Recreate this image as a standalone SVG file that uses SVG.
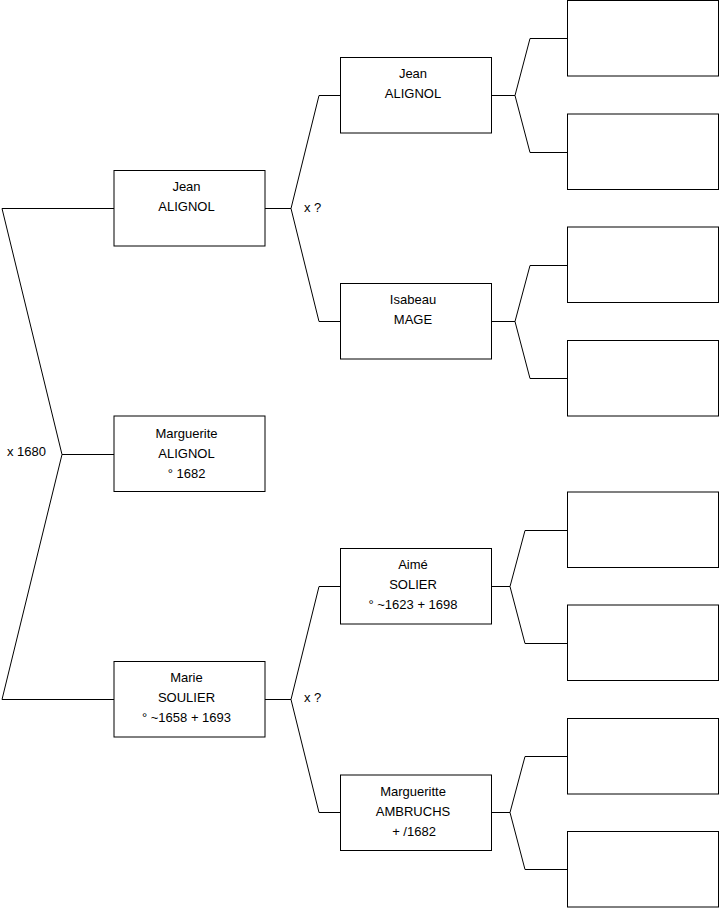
<svg xmlns="http://www.w3.org/2000/svg" width="719" height="908" viewBox="0 0 719 908">
<style>
.box{fill:#fff;stroke:#000;stroke-width:1}
.ln{fill:none;stroke:#000;stroke-width:1}
text{font-family:"Liberation Sans",Arial,sans-serif;font-size:13px;fill:#000}
.c{text-anchor:middle}
</style>
<rect width="719" height="908" fill="#fff"/>
<g id="connectors">
<path class="ln" d="M114,208.5 H2 L62,454.5 L2,699.5 H114 M62,454.5 H114"/>
<path class="ln" d="M265,208.5 H291 L319,95.5 H340.5 M291,208.5 L319,321.5 H340.5"/>
<path class="ln" d="M265,699.5 H291 L319,586.5 H340.5 M291,699.5 L319,812.5 H340.5"/>
<path class="ln" d="M491.5,95.5 H515 L530,38.5 H567.5 M515,95.5 L530,152.5 H567.5"/>
<path class="ln" d="M491.5,321.5 H515 L530,265.5 H567.5 M515,321.5 L530,378.5 H567.5"/>
<path class="ln" d="M491.5,586.5 H510 L525,530.5 H567.5 M510,586.5 L525,643.5 H567.5"/>
<path class="ln" d="M491.5,812.5 H510 L525,756.5 H567.5 M510,812.5 L525,869.5 H567.5"/>
<text x="7" y="456">x 1680</text>
<text x="304" y="212">x ?</text>
<text x="304" y="702">x ?</text>
</g>
<g id="n-jean1"><rect class="box" x="114" y="170.5" width="151" height="75.5"/><text class="c" x="186.5" y="191">Jean</text><text class="c" x="186.5" y="211">ALIGNOL</text></g>
<g id="n-marguerite"><rect class="box" x="114" y="416" width="151" height="75.5"/><text class="c" x="186.5" y="438">Marguerite</text><text class="c" x="186.5" y="458">ALIGNOL</text><text class="c" x="186.5" y="478">° 1682</text></g>
<g id="n-marie"><rect class="box" x="114" y="661.5" width="151" height="75.5"/><text class="c" x="186.5" y="682">Marie</text><text class="c" x="186.5" y="702">SOULIER</text><text class="c" x="186.5" y="722">° ~1658 + 1693</text></g>
<g id="n-jean2"><rect class="box" x="340.5" y="57.5" width="151" height="75.5"/><text class="c" x="413" y="78">Jean</text><text class="c" x="413" y="98">ALIGNOL</text></g>
<g id="n-isabeau"><rect class="box" x="340.5" y="283.5" width="151" height="75.5"/><text class="c" x="413" y="304">Isabeau</text><text class="c" x="413" y="324">MAGE</text></g>
<g id="n-aime"><rect class="box" x="340.5" y="548.5" width="151" height="75.5"/><text class="c" x="413" y="569">Aimé</text><text class="c" x="413" y="589">SOLIER</text><text class="c" x="413" y="609">° ~1623 + 1698</text></g>
<g id="n-margueritte"><rect class="box" x="340.5" y="775" width="151" height="75.5"/><text class="c" x="413" y="796">Margueritte</text><text class="c" x="413" y="816">AMBRUCHS</text><text class="c" x="414" y="836">+ /1682</text></g>
<g id="n-g3-1"><rect class="box" x="567.5" y="0.5" width="151" height="75.5"/></g>
<g id="n-g3-2"><rect class="box" x="567.5" y="114" width="151" height="75.5"/></g>
<g id="n-g3-3"><rect class="box" x="567.5" y="227" width="151" height="75.5"/></g>
<g id="n-g3-4"><rect class="box" x="567.5" y="340.5" width="151" height="75.5"/></g>
<g id="n-g3-5"><rect class="box" x="567.5" y="492" width="151" height="75.5"/></g>
<g id="n-g3-6"><rect class="box" x="567.5" y="605" width="151" height="75.5"/></g>
<g id="n-g3-7"><rect class="box" x="567.5" y="718.5" width="151" height="75.5"/></g>
<g id="n-g3-8"><rect class="box" x="567.5" y="831.5" width="151" height="75.5"/></g>
</svg>
